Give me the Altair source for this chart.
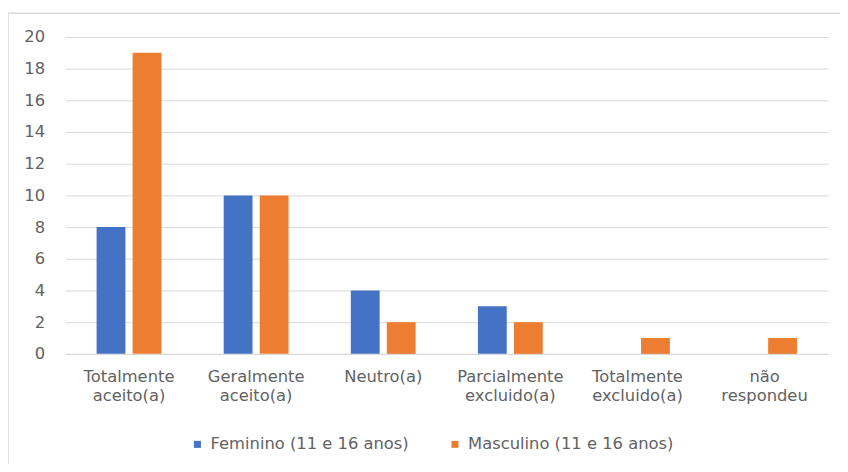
import altair as alt
import pandas as pd

categories = ["Totalmente|aceito(a)", "Geralmente|aceito(a)", "Neutro(a)",
              "Parcialmente|excluido(a)", "Totalmente|excluido(a)", "não|respondeu"]
series = ["Feminino (11 e 16 anos)", "Masculino (11 e 16 anos)"]
feminino = [8, 10, 4, 3, 0, 0]
masculino = [19, 10, 2, 2, 1, 1]

rows = []
for c, f, m in zip(categories, feminino, masculino):
    rows.append({"cat": c, "serie": series[0], "valor": f})
    rows.append({"cat": c, "serie": series[1], "valor": m})
df = pd.DataFrame(rows)

FONT = "DejaVu Sans"
GRAY = "#626262"

bars = alt.Chart(df).mark_bar().encode(
    x=alt.X("cat:N", sort=categories, title=None,
            scale=alt.Scale(paddingInner=0.49, paddingOuter=0.245),
            axis=alt.Axis(labelAngle=0, labelExpr="split(datum.label, '|')",
                          labelFontSize=16.5, labelColor=GRAY, labelFont=FONT,
                          labelPadding=15, labelLineHeight=19.5, ticks=False,
                          domainColor="#d9d9d9", labelBaseline="top", labelLimit=200)),
    xOffset=alt.XOffset("serie:N", sort=series, scale=alt.Scale(paddingInner=0.2)),
    y=alt.Y("valor:Q", title=None,
            scale=alt.Scale(domain=[0, 20]),
            axis=alt.Axis(values=list(range(0, 21, 2)), domain=False, ticks=False,
                          labelFontSize=16.5, labelColor=GRAY, labelFont=FONT,
                          labelPadding=21, gridColor="#d9d9d9")),
    color=alt.Color("serie:N", sort=series,
                    scale=alt.Scale(domain=series, range=["#4472C4", "#ED7D31"]),
                    legend=alt.Legend(title=None, orient="none", direction="horizontal",
                                      legendX=125, legendY=403, symbolType="square",
                                      symbolSize=50, labelFontSize=16.5, labelColor=GRAY,
                                      labelFont=FONT, columnPadding=38, labelOffset=5,
                                      labelLimit=300)),
)

border = alt.Chart(pd.DataFrame({"a": [0]})).mark_rect(
    fill=None, stroke="#d9d9d9", strokeWidth=1.5
).encode(x=alt.value(-58), x2=alt.value(1200), y=alt.value(-24), y2=alt.value(900))

chart = alt.layer(border, bars).properties(
    width=770, height=320,
    autosize=alt.AutoSizeParams(type="none"),
    padding={"left": 58, "top": 27, "right": 12, "bottom": 109},
).configure_view(stroke=None)

chart.save("out.html", embed_options={"renderer": "svg", "actions": False})
